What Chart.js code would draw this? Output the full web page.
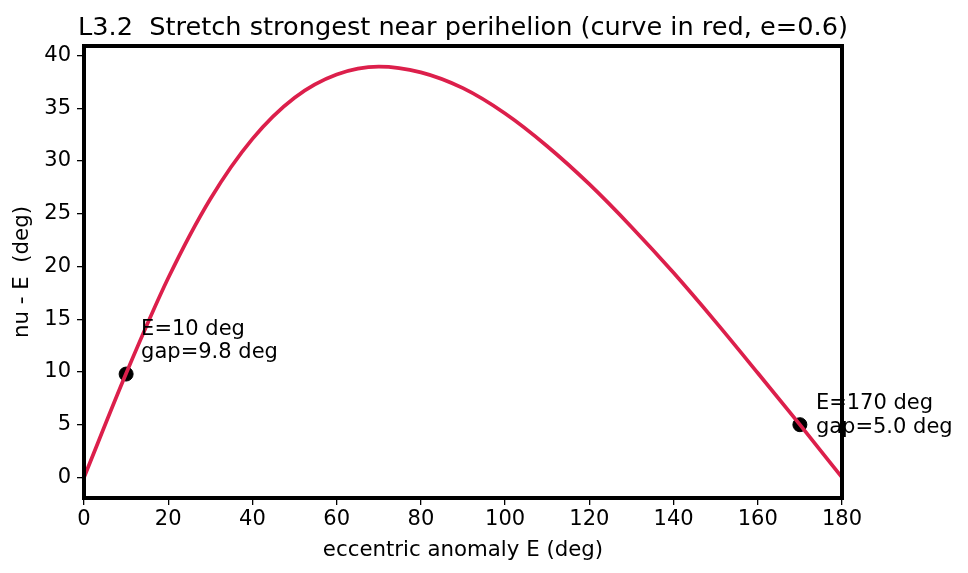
<!DOCTYPE html>
<html>
<head>
<meta charset="utf-8">
<script src="https://cdn.jsdelivr.net/npm/chart.js@4.4.1/dist/chart.umd.min.js"></script>
<style>
  html, body { margin: 0; padding: 0; background: #fff; }
  #wrap { width: 968px; height: 573px; }
</style>
</head>
<body>
<div id="wrap"><canvas id="chart"></canvas></div>
<script>
// values
const anomalyE = [0, 10, 20, 30, 40, 50, 60, 70, 80, 90, 100, 110, 120, 130, 140, 150, 160, 170, 180];
const gapDeg = [0, 9.85, 18.9, 26.4, 32.1, 36.0, 38.2, 38.95, 38.4, 36.9, 34.5, 31.4, 27.8, 23.75, 19.4, 14.75, 9.9, 5.0, 0];
const markedE = [10, 170];
const markedGap = [9.8, 5.0];
const markLabels = [["E=10 deg", "gap=9.8 deg"], ["E=170 deg", "gap=5.0 deg"]];
const xTicks = [0, 20, 40, 60, 80, 100, 120, 140, 160, 180];
const yTicks = [0, 5, 10, 15, 20, 25, 30, 35, 40];

const FONT = "'DejaVu Sans', sans-serif";

const extras = {
    id: 'extras',
    afterDraw(chart) {
        const ctx = chart.ctx;
        const a = chart.chartArea;
        const xs = chart.scales.x, ys = chart.scales.y;
        ctx.save();
        // frame
        ctx.strokeStyle = '#000';
        ctx.lineWidth = 4;
        ctx.strokeRect(a.left, a.top, a.right - a.left, a.bottom - a.top);
        // title
        ctx.fillStyle = '#000';
        ctx.font = "25.6px " + FONT;
        ctx.textAlign = 'left';
        ctx.textBaseline = 'alphabetic';
        ctx.fillText('L3.2  Stretch strongest near perihelion (curve in red, e=0.6)', 78, 35);
        // point labels
        ctx.font = "21px " + FONT;
        ctx.textBaseline = 'middle';
        const offs = [[15, -45], [16, -21]];
        markLabels.forEach((lines, i) => {
            const px = xs.getPixelForValue(markedE[i]);
            const py = ys.getPixelForValue(markedGap[i]);
            lines.forEach((t, j) => ctx.fillText(t, px + offs[i][0], py + offs[i][1] + j * 23.5));
        });
        ctx.restore();
    }
};

new Chart(document.getElementById('chart'), {
    type: 'line',
    data: {
        datasets: [{
            data: anomalyE.map((e, i) => ({ x: e, y: gapDeg[i] })),
            borderColor: '#dc1f4b',
            borderWidth: 3.7,
            pointRadius: 0,
            cubicInterpolationMode: 'monotone',
            fill: false
        }, {
            type: 'scatter',
            data: markedE.map((e, i) => ({ x: e, y: markedGap[i] })),
            backgroundColor: '#000',
            borderColor: '#000',
            pointRadius: 7,
            pointHoverRadius: 7
        }]
    },
    options: {
        responsive: true,
        maintainAspectRatio: false,
        animation: false,
        events: [],
        layout: { padding: { left: 0, right: 126, top: 46, bottom: 0 } },
        plugins: { legend: { display: false }, tooltip: { enabled: false } },
        scales: {
            x: {
                type: 'linear', min: 0, max: 180,
                afterBuildTicks: s => { s.ticks = xTicks.map(v => ({ value: v })); },
                afterFit: s => { s.height = 75; },
                border: { display: false },
                grid: { drawOnChartArea: false, drawTicks: true, tickLength: 7, color: '#000', lineWidth: 1.3 },
                ticks: { color: '#000', font: { family: FONT, size: 21 }, padding: 2, maxRotation: 0 },
                title: { display: true, text: 'eccentric anomaly E (deg)', color: '#000', font: { family: FONT, size: 21.3 }, padding: { top: 0, bottom: 10 } }
            },
            y: {
                type: 'linear', min: -1.95, max: 40.9,
                afterBuildTicks: s => { s.ticks = yTicks.map(v => ({ value: v })); },
                afterFit: s => { s.width = 84; },
                border: { display: false },
                grid: { drawOnChartArea: false, drawTicks: true, tickLength: 7, color: '#000', lineWidth: 1.3 },
                ticks: { color: '#000', font: { family: FONT, size: 21 }, padding: 6 },
                title: { display: true, text: 'nu - E  (deg)', color: '#000', font: { family: FONT, size: 21.3 }, padding: { top: 10, bottom: 0 } }
            }
        }
    },
    plugins: [extras]
});
</script>
</body>
</html>
